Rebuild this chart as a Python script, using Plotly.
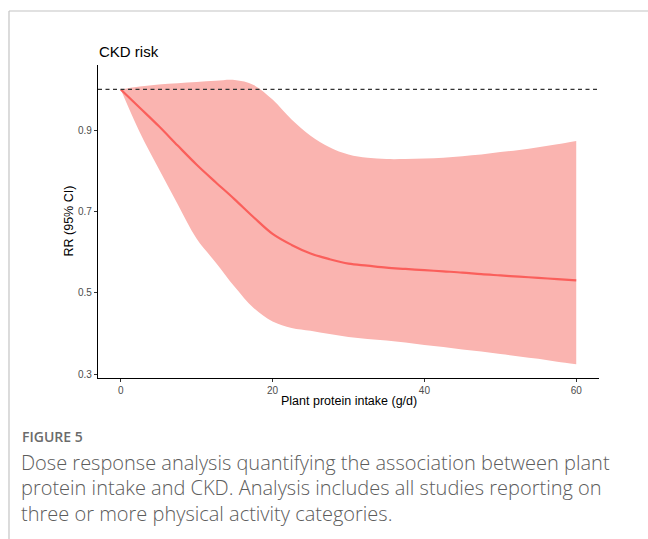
import plotly.graph_objects as go

# Data
intake = [0, 2.5, 5, 7.5, 10, 12.5, 15, 17.5, 20, 22.5, 25, 27.5, 30, 32.5, 35,
          37.5, 40, 42.5, 45, 47.5, 50, 52.5, 55, 57.5, 60]
rr = [1.0, 0.955, 0.91, 0.862, 0.815, 0.772, 0.73, 0.686, 0.645, 0.618, 0.597,
      0.583, 0.572, 0.567, 0.562, 0.559, 0.556, 0.553, 0.550, 0.546, 0.543,
      0.540, 0.537, 0.534, 0.531]
upper = [1.0, 1.007, 1.012, 1.015, 1.018, 1.021, 1.023, 1.011, 0.975, 0.926,
         0.886, 0.858, 0.840, 0.832, 0.829, 0.829, 0.830, 0.832, 0.836, 0.840,
         0.846, 0.851, 0.858, 0.865, 0.873]
lower = [1.0, 0.895, 0.805, 0.718, 0.633, 0.575, 0.515, 0.463, 0.430, 0.414,
         0.407, 0.399, 0.392, 0.387, 0.383, 0.378, 0.372, 0.367, 0.361, 0.356,
         0.350, 0.344, 0.338, 0.331, 0.325]
x_ticks = [0, 20, 40, 60]
y_ticks = [0.3, 0.5, 0.7, 0.9]
y_tick_text = ["0.3", "0.5", "0.7", "0.9"]

title_text = "CKD risk"
x_title = "Plant protein intake (g/d)"
y_title = "RR (95% CI)"
caption_head = "FIGURE 5"
caption_lines = [
    "Dose response analysis quantifying the association between plant",
    "protein intake and CKD. Analysis includes all studies reporting on",
    "three or more physical activity categories.",
]

W, H = 648, 539
L, R, T, B = 98, 49, 65, 161
PW, PH = W - L - R, H - T - B


def px(xp):
    return (xp - L) / PW


def py(yp):
    return (H - B - yp) / PH


FONT = "Arial, Liberation Sans, sans-serif"
CAP_FONT = "Open Sans, sans-serif"
LINE_COL = "#FA5F5B"

fig = go.Figure()
fig.add_trace(go.Scatter(x=intake, y=lower, mode="lines", line=dict(width=0, shape="spline"),
                         hoverinfo="skip", showlegend=False))
fig.add_trace(go.Scatter(x=intake, y=upper, mode="lines", line=dict(width=0, shape="spline"),
                         fill="tonexty", fillcolor="#FAB4B0", hoverinfo="skip", showlegend=False))
fig.add_trace(go.Scatter(x=intake, y=rr, mode="lines", line=dict(width=2.2, color=LINE_COL, shape="spline"),
                         showlegend=False))

fig.add_shape(type="line", xref="paper", yref="y", x0=0, x1=1, y0=1, y1=1,
              line=dict(color="#333333", width=1.3, dash="4px,3.5px"))

# outer frame lines (top and left)
fig.add_shape(type="line", xref="paper", yref="paper", x0=px(9), x1=px(W), y0=py(11), y1=py(11),
              line=dict(color="#c4c4c4", width=1.2))
fig.add_shape(type="line", xref="paper", yref="paper", x0=px(9), x1=px(9), y0=py(11), y1=py(H),
              line=dict(color="#c4c4c4", width=1.2))

ann = []
ann.append(dict(text=title_text, xref="paper", yref="paper", x=px(97), y=py(51),
                xanchor="left", yanchor="middle", showarrow=False,
                font=dict(family=FONT, size=15, color="#000000")))
ann.append(dict(text=x_title, xref="paper", yref="paper", x=0.5, y=py(401),
                xanchor="center", yanchor="middle", showarrow=False,
                font=dict(family=FONT, size=12.5, color="#000000")))
ann.append(dict(text=y_title, xref="paper", yref="paper", x=px(68), y=0.5, textangle=-90,
                xanchor="center", yanchor="middle", showarrow=False,
                font=dict(family=FONT, size=12.5, color="#000000")))
ann.append(dict(text=caption_head, xref="paper", yref="paper", x=px(20), y=py(436),
                xanchor="left", yanchor="middle", showarrow=False,
                font=dict(family=CAP_FONT, size=14, color="#6b6b6b", weight=600)))
for i, t in enumerate(caption_lines):
    ann.append(dict(text=t, xref="paper", yref="paper", x=px(19), y=py(463 + 25 * i),
                    xanchor="left", yanchor="middle", showarrow=False,
                    font=dict(family=CAP_FONT, size=20, color="#5c5c5c", weight=300)))

axis_common = dict(showgrid=False, zeroline=False, showline=True, linecolor="#000000",
                   linewidth=1.3, ticks="outside", ticklen=3, tickwidth=1, tickcolor="#333333",
                   tickfont=dict(family=FONT, size=10, color="#4d4d4d"))

fig.update_layout(
    width=W, height=H,
    margin=dict(l=L, r=R, t=T, b=B, autoexpand=False),
    paper_bgcolor="white", plot_bgcolor="white",
    xaxis=dict(range=[-3, 63], tickvals=x_ticks, **axis_common),
    yaxis=dict(range=[0.291, 1.06], tickvals=y_ticks, ticktext=y_tick_text, **axis_common),
    annotations=ann,
    showlegend=False,
)

fig.write_html("out.html", config={"displayModeBar": False},
               post_script="document.body.style.margin='0';")
